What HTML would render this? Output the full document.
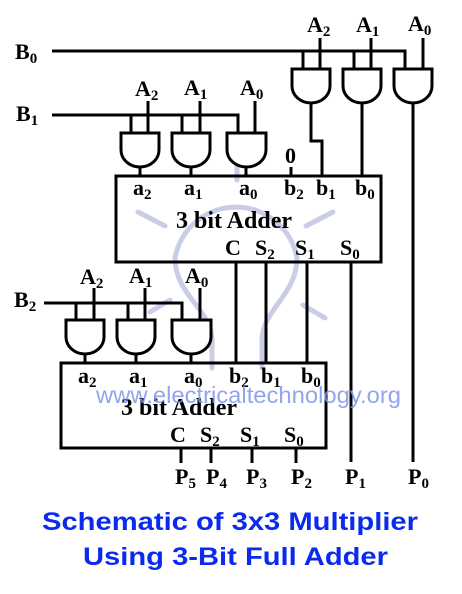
<!DOCTYPE html>
<html><head><style>
html,body{margin:0;padding:0;background:#fff;width:462px;height:594px;overflow:hidden}
svg{display:block}
.t{font-family:"Liberation Serif",serif;font-weight:bold;font-size:22px;fill:#000}
.s{font-size:15px}
</style></head><body>
<svg width="462" height="594" viewBox="0 0 462 594" xmlns="http://www.w3.org/2000/svg">
<g stroke="#c9cde6" stroke-width="5" fill="none" stroke-linecap="round">
<path d="M212 340 C212 310 175 295 175 258 A62 62 0 0 1 297 258 C297 295 262 310 262 340"/>
<path d="M212 340 V368 M262 340 V368"/>
<path d="M237 158 V180"/>
<path d="M138 212 L165 226 M333 212 L306 226"/>
<path d="M150 312 L170 300 M325 318 L303 305"/>
</g>

<g stroke="#000" stroke-width="3" fill="none">
<path d="M52 51 H405 V69"/>
<path d="M303 51 V69 M354 51 V69"/>
<path d="M320 38 V69 M371 38 V69 M423 38 V69"/>
<path d="M292 69 H330 V86 A19 17 0 0 1 292 86 Z" fill="#fff"/>
<path d="M343 69 H381 V86 A19 17 0 0 1 343 86 Z" fill="#fff"/>
<path d="M394 69 H432 V86 A19 17 0 0 1 394 86 Z" fill="#fff"/>
<path d="M311 103 V141 H322 V176"/>
<path d="M362 103 V176"/>
<path d="M413 103 V462"/>
<path d="M52 115 H238 V133"/>
<path d="M131 115 V133 M182 115 V133"/>
<path d="M148 101 V133 M200 101 V133 M255 101 V133"/>
<path d="M121 133 H159 V150 A19 17 0 0 1 121 150 Z" fill="#fff"/>
<path d="M172 133 H210 V150 A19 17 0 0 1 172 150 Z" fill="#fff"/>
<path d="M227 133 H266 V150 A19.5 17 0 0 1 227 150 Z" fill="#fff"/>
<path d="M140 167 V176 M191 167 V176 M246 167 V176 M291 167 V176"/>
<rect x="116" y="176" width="265" height="86"/>
<path d="M236 262 V363 M266 262 V363 M307 262 V363 M351 262 V462"/>
<path d="M44 303 H182 V320"/>
<path d="M76 303 V320 M128 303 V320"/>
<path d="M94 288 V320 M145 288 V320 M200 288 V320"/>
<path d="M66 320 H104 V337 A19 17 0 0 1 66 337 Z" fill="#fff"/>
<path d="M117 320 H155 V337 A19 17 0 0 1 117 337 Z" fill="#fff"/>
<path d="M172 320 H211 V337 A19.5 17 0 0 1 172 337 Z" fill="#fff"/>
<path d="M85 354 V363 M136 354 V363 M191 354 V363"/>
<rect x="61" y="363" width="265" height="85"/>
<path d="M181 448 V463 M211 448 V463 M252 448 V463 M296 448 V463"/>
</g>

<g class="t">
<text x="15" y="59">B<tspan class="s" dy="4">0</tspan></text>
<text x="16" y="121">B<tspan class="s" dy="4">1</tspan></text>
<text x="14" y="307">B<tspan class="s" dy="4">2</tspan></text>
<text x="307" y="32">A<tspan class="s" dy="4">2</tspan></text>
<text x="356" y="32">A<tspan class="s" dy="4">1</tspan></text>
<text x="408" y="31">A<tspan class="s" dy="4">0</tspan></text>
<text x="135" y="96">A<tspan class="s" dy="4">2</tspan></text>
<text x="184" y="95">A<tspan class="s" dy="4">1</tspan></text>
<text x="240" y="95">A<tspan class="s" dy="4">0</tspan></text>
<text x="80" y="284">A<tspan class="s" dy="4">2</tspan></text>
<text x="129" y="283">A<tspan class="s" dy="4">1</tspan></text>
<text x="185" y="283">A<tspan class="s" dy="4">0</tspan></text>
<text x="285" y="163">0</text>
<text x="133" y="195">a<tspan class="s" dy="4">2</tspan></text>
<text x="184" y="195">a<tspan class="s" dy="4">1</tspan></text>
<text x="239" y="195">a<tspan class="s" dy="4">0</tspan></text>
<text x="284" y="195">b<tspan class="s" dy="4">2</tspan></text>
<text x="316" y="195">b<tspan class="s" dy="4">1</tspan></text>
<text x="355" y="195">b<tspan class="s" dy="4">0</tspan></text>
<text x="234" y="228" text-anchor="middle" font-size="24">3 bit Adder</text>
<text x="225" y="255">C</text>
<text x="255" y="255">S<tspan class="s" dy="4">2</tspan></text>
<text x="295" y="255">S<tspan class="s" dy="4">1</tspan></text>
<text x="340" y="255">S<tspan class="s" dy="4">0</tspan></text>
<text x="78" y="383">a<tspan class="s" dy="4">2</tspan></text>
<text x="129" y="383">a<tspan class="s" dy="4">1</tspan></text>
<text x="184" y="383">a<tspan class="s" dy="4">0</tspan></text>
<text x="229" y="383">b<tspan class="s" dy="4">2</tspan></text>
<text x="261" y="383">b<tspan class="s" dy="4">1</tspan></text>
<text x="301" y="383">b<tspan class="s" dy="4">0</tspan></text>
<text x="179" y="415" text-anchor="middle" font-size="24">3 bit Adder</text>
<text x="170" y="442">C</text>
<text x="200" y="442">S<tspan class="s" dy="4">2</tspan></text>
<text x="240" y="442">S<tspan class="s" dy="4">1</tspan></text>
<text x="284" y="442">S<tspan class="s" dy="4">0</tspan></text>
<text x="175" y="484">P<tspan class="s" dy="4">5</tspan></text>
<text x="206" y="484">P<tspan class="s" dy="4">4</tspan></text>
<text x="246" y="484">P<tspan class="s" dy="4">3</tspan></text>
<text x="291" y="484">P<tspan class="s" dy="4">2</tspan></text>
<text x="345" y="484">P<tspan class="s" dy="4">1</tspan></text>
<text x="408" y="484">P<tspan class="s" dy="4">0</tspan></text>
</g>
<text x="96" y="403" textLength="305" lengthAdjust="spacingAndGlyphs" font-family="Liberation Sans,sans-serif" font-size="23" fill="#7f95ea" fill-opacity="0.85">www.electricaltechnology.org</text>
<g font-family="Liberation Sans,sans-serif" font-weight="bold" font-size="25" fill="#0a2af0">
<text x="42" y="530" textLength="376" lengthAdjust="spacingAndGlyphs">Schematic of 3x3 Multiplier</text>
<text x="83" y="565" textLength="305" lengthAdjust="spacingAndGlyphs">Using 3-Bit Full Adder</text>
</g>
</svg>
</body></html>
